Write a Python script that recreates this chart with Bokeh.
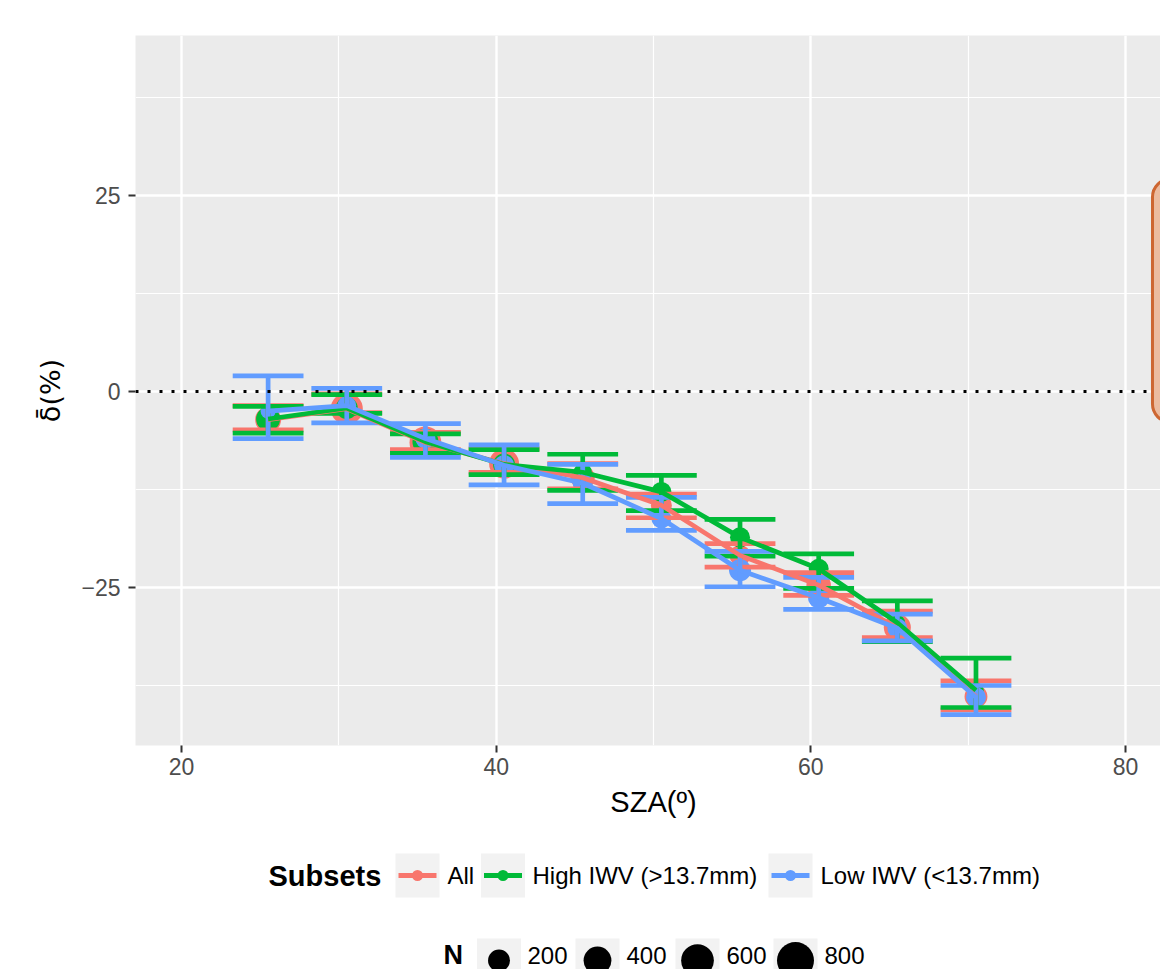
import numpy as np
from bokeh.plotting import figure
from bokeh.models import Range1d, FixedTicker, Span, BoxAnnotation
from bokeh.layouts import column
from bokeh.core.properties import value
from bokeh.embed import file_html
from bokeh.resources import INLINE

# ---------------- data ----------------
sza = [25.5, 30.5, 35.5, 40.5, 45.5, 50.5, 55.5, 60.5, 65.5, 70.5]

all_mean  = [-3.6, -2.2, -6.5, -9.2, -11.0, -14.5, -20.9, -24.7, -30.1, -38.9]
all_lower = [-4.9, -2.7, -7.4, -10.3, -12.4, -16.1, -22.4, -26.0, -31.4, -40.6]
all_upper = [-1.8, -0.3, -5.2, -7.3, -9.2, -13.1, -19.4, -23.1, -28.0, -36.9]
all_n     = [330, 570, 560, 480, 265, 170, 170, 280, 370, 230]

high_mean  = [-3.5, -2.1, -6.4, -9.3, -10.3, -12.8, -18.6, -22.6, -29.5, -38.1]
high_lower = [-5.3, -2.8, -7.9, -10.6, -12.6, -15.2, -21.0, -25.1, -31.9, -40.3]
high_upper = [-1.9, -0.4, -5.4, -7.4, -8.0, -10.7, -16.3, -20.7, -26.7, -34.0]
high_n     = [265, 200, 330, 200, 100, 146, 146, 146, 40, 40]

low_mean  = [-2.5, -1.8, -6.0, -9.4, -11.7, -16.2, -22.8, -26.3, -30.2, -39.0]
low_lower = [-6.0, -4.0, -8.4, -11.9, -14.3, -17.7, -24.9, -27.8, -31.8, -41.2]
low_upper = [2.0, 0.4, -4.1, -6.8, -9.3, -13.5, -20.4, -23.7, -28.4, -37.5]
low_n     = [30, 120, 150, 150, 150, 146, 203, 180, 146, 146]

subset_names = ["All", "High IWV (>13.7mm)", "Low IWV (<13.7mm)"]
subset_colors = ["#F8766D", "#00BA38", "#619CFF"]

x_ticks = [20, 40, 60, 80]
x_minor = [30, 50, 70]
y_ticks = [-25, 0, 25]
y_minor = [-37.5, -12.5, 12.5, 37.5]
y_tick_labels = {-25: "\u221225", 0: "0", 25: "25"}

n_breaks = [200, 400, 600, 800]
n_labels = ["200", "400", "600", "800"]

# annotation label box (partially visible at right edge)
box_left, box_right, box_top, box_bottom = 81.72, 95.0, 27.1, -3.9

series = [
    (all_mean, all_lower, all_upper, all_n),
    (high_mean, high_lower, high_upper, high_n),
    (low_mean, low_lower, low_upper, low_n),
]

FONT = "Liberation Sans"
ERR_HALF = 2.25
LW = 4.7


def size_of(n):
    return np.sqrt(184.0 + 1.48 * np.asarray(n, dtype=float))


# ---------------- main plot ----------------
p = figure(width=1160, height=784,
           x_range=Range1d(17.07, 82.23), y_range=Range1d(-45.15, 45.41),
           output_backend="svg", toolbar_location=None,
           min_border_left=135, min_border_right=0,
           min_border_top=35, min_border_bottom=39)
p.background_fill_color = "#EBEBEB"
p.border_fill_color = "white"
p.outline_line_color = None

p.xaxis.ticker = FixedTicker(ticks=x_ticks, minor_ticks=x_minor)
p.yaxis.ticker = FixedTicker(ticks=y_ticks, minor_ticks=y_minor)
p.yaxis.major_label_overrides = y_tick_labels

for ax in (p.xaxis, p.yaxis):
    ax.axis_line_color = None
    ax.major_tick_line_color = "#333333"
    ax.major_tick_line_width = 2
    ax.major_tick_out = 7
    ax.major_tick_in = 0
    ax.minor_tick_line_color = None
    ax.major_label_text_font = FONT
    ax.major_label_text_font_size = "23px"
    ax.major_label_text_color = "#4D4D4D"
p.xaxis.major_label_standoff = 5
p.yaxis.major_label_standoff = 8

p.yaxis.axis_label = "\u03b4\u0304(%)"
p.yaxis.axis_label_text_font = "DejaVu Sans"
p.yaxis.axis_label_text_font_size = "27px"
p.yaxis.axis_label_text_font_style = "normal"
p.yaxis.axis_label_text_color = "black"
p.yaxis.axis_label_standoff = 12

for g in (p.xgrid, p.ygrid):
    g.grid_line_color = "white"
    g.grid_line_width = 2.4
    g.minor_grid_line_color = "white"
    g.minor_grid_line_width = 1.2

zero = Span(location=0, dimension="width", line_color="black",
            line_width=3, line_dash="3 9")
p.add_layout(zero)

box = BoxAnnotation(left=box_left, right=box_right, top=box_top, bottom=box_bottom,
                    fill_color="#EBBB9F", fill_alpha=1.0,
                    line_color="#CD6631", line_alpha=1.0, line_width=3, border_radius=18)
p.add_layout(box)

# points
for (m, lo, hi, n), c in zip(series, subset_colors):
    p.scatter(sza, m, size=size_of(n), fill_color=c, line_color=None)

# error bars
for (m, lo, hi, n), c in zip(series, subset_colors):
    xs = np.asarray(sza)
    p.segment(x0=xs, y0=lo, x1=xs, y1=hi, line_color=c, line_width=LW)
    p.segment(x0=xs - ERR_HALF, y0=lo, x1=xs + ERR_HALF, y1=lo, line_color=c, line_width=LW)
    p.segment(x0=xs - ERR_HALF, y0=hi, x1=xs + ERR_HALF, y1=hi, line_color=c, line_width=LW)

# lines
for (m, lo, hi, n), c in zip(series, subset_colors):
    p.line(sza, m, line_color=c, line_width=LW, line_join="round")

# ---------------- legend / x title area ----------------
TOP = 784
q = figure(width=1160, height=969 - TOP, x_range=Range1d(135, 1160), y_range=Range1d(969, TOP),
           output_backend="svg", toolbar_location=None,
           x_axis_location=None, y_axis_location=None,
           min_border_left=135, min_border_right=0, min_border_top=0, min_border_bottom=0)
q.outline_line_color = None
q.xgrid.visible = False
q.ygrid.visible = False
q.background_fill_color = "white"
q.border_fill_color = "white"

q.text(x=[653], y=[801], text=["SZA(\u00ba)"], text_align="center", text_baseline="middle",
       text_font=value(FONT), text_font_size="29px", text_color="black")

# Subsets legend
row1_y = 875
key_x = [417, 502.5, 790]
text_x = [447, 532, 820]
q.text(x=[268], y=[row1_y], text=["Subsets"], text_align="left", text_baseline="middle",
       text_font=value(FONT), text_font_size="29px", text_font_style="bold", text_color="black")
q.rect(x=key_x, y=[row1_y] * 3, width=44, height=44, fill_color="#F2F2F2", line_color=None)
kx = np.asarray(key_x)
q.segment(x0=kx - 19, y0=[row1_y] * 3, x1=kx + 19, y1=[row1_y] * 3,
          line_color=subset_colors, line_width=4.8)
q.scatter(key_x, [row1_y] * 3, size=11, fill_color=subset_colors, line_color=None)
q.text(x=text_x, y=[row1_y] * 3, text=subset_names, text_align="left", text_baseline="middle",
       text_font=value(FONT), text_font_size="24px", text_color="black")

# N legend
row2_y = 960
row2_text_y = 955
nkey_x = [498.5, 597, 697, 795]
ntext_x = [527, 626, 726, 824]
q.text(x=[443], y=[954], text=["N"], text_align="left", text_baseline="middle",
       text_font=value(FONT), text_font_size="27px", text_font_style="bold", text_color="black")
q.rect(x=nkey_x, y=[row2_y] * 4, width=44, height=44, fill_color="#F2F2F2", line_color=None)
q.scatter(nkey_x, [row2_y] * 4, size=size_of(n_breaks), fill_color="black", line_color=None)
q.text(x=ntext_x, y=[row2_text_y] * 4, text=n_labels, text_align="left", text_baseline="middle",
       text_font=value(FONT), text_font_size="24px", text_color="black")

layout = column(p, q, spacing=0)
open("out.html", "w").write(file_html(layout, INLINE))
